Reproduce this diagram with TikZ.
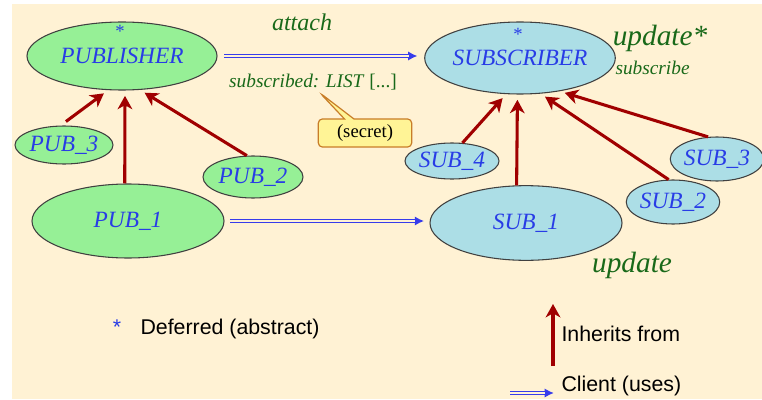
\documentclass[tikz,border=0pt]{standalone}
\usepackage{fontspec}
\setmainfont{Liberation Serif}
\newfontfamily\arialfont{Liberation Sans}
\usetikzlibrary{shapes.geometric,shapes.callouts,arrows.meta}

\definecolor{bgc}{RGB}{255,242,212}
\definecolor{pubgreen}{RGB}{150,240,150}
\definecolor{subblue}{RGB}{172,222,230}
\definecolor{inhred}{RGB}{160,0,0}
\definecolor{cliblue}{RGB}{55,60,235}
\definecolor{txtblue}{RGB}{40,60,230}
\definecolor{featgreen}{RGB}{25,105,25}
\definecolor{noteyellow}{RGB}{255,244,150}
\definecolor{notebrown}{RGB}{200,125,40}

\tikzset{every picture/.style={line width=0.75pt}}
\tikzset{
  pubnode/.style={ellipse, draw=black!75, line width=0.8pt, fill=pubgreen, inner sep=0pt,
    text=txtblue, font=\fontsize{17.5}{20}\selectfont\itshape},
  subnode/.style={pubnode, fill=subblue},
  starlbl/.style={text=txtblue, font=\fontsize{14}{16}\selectfont, inner sep=0pt},
  feat/.style={text=featgreen, inner sep=0pt},
  legtext/.style={font=\arialfont\fontsize{16}{18}\selectfont, text=black, inner sep=0pt},
  inh/.style={draw=inhred, line width=2.3pt, -{Stealth[length=10pt,width=11pt,inset=3pt]}, shorten >=4pt},
  cli/.style={draw=cliblue, line width=3.1pt, -{Latex[length=7pt,width=7pt]}, shorten >=#1,
    postaction={draw=bgc, line width=1.3pt, -, shorten >=#1+6.5pt}},
}

\begin{document}
\begin{tikzpicture}[x=0.75pt,y=0.75pt,yscale=-1,xscale=1]
    \useasboundingbox (0,0) rectangle (762,399);
    %background
    \fill[bgc] (12,4) rectangle (762,399);

    %Publisher side
    \node[pubnode, minimum width=142.5pt, minimum height=51pt] (pub) at (122,56) {PUBLISHER};
    \node[starlbl] (pubstar) at (120,31) {*};
    \node[pubnode, minimum width=73.5pt, minimum height=28.5pt] (pubthree) at (64,145) {PUB\_3};
    \node[pubnode, minimum width=75pt, minimum height=31.5pt] (pubtwo) at (253,177) {PUB\_2};
    \node[pubnode, minimum width=144pt, minimum height=55.5pt] (pubone) at (128,221) {PUB\_1};

    %Subscriber side
    \node[subnode, minimum width=142.5pt, minimum height=54pt] (sub) at (520,58) {SUBSCRIBER};
    \node[starlbl] (substar) at (518,34) {*};
    \node[subnode, minimum width=70.5pt, minimum height=27pt] (subfour) at (452,161) {SUB\_4};
    \node[subnode, minimum width=67.5pt, minimum height=33pt] (subthree) at (717,159) {SUB\_3};
    \node[subnode, minimum width=69pt, minimum height=33pt] (subtwo) at (673,202) {SUB\_2};
    \node[subnode, minimum width=144pt, minimum height=56pt] (subone) at (526,223) {SUB\_1};

    %Inheritance
    \draw[inh, shorten <=5pt] (pubthree.100) -- (pub.248);
    \draw[inh] (pubone.95) -- (pub.275);
    \draw[inh] (pubtwo.106) -- (pub.298);
    \draw[inh] (subfour.60) -- (sub.249);
    \draw[inh] (subone.104) -- (sub.266);
    \draw[inh] (subtwo.101) -- (sub.300);
    \draw[inh] (subthree.112) -- (sub.320);

    %Client
    \draw[cli=5pt, shorten <=5pt] (pub.east) -- (pub.east -| sub.west);
    \draw[cli=4pt, shorten <=4pt] (pubone.east) -- (pubone.east -| subone.west);

    % Text Node
    \node[feat, font=\fontsize{18}{20}\selectfont\itshape] (attach) at (302,22) {attach};
    % Text Node
    \node[feat, font=\fontsize{14.5}{16}\selectfont] (sublist) at (313,82) {\textit{subscribed: LIST} [...]};
    % Text Node
    \node[feat, font=\fontsize{22}{24}\selectfont\itshape] (updstar) at (660,38) {update*};
    % Text Node
    \node[feat, font=\fontsize{14.5}{16}\selectfont\itshape, anchor=west] (subscr) at (615,68) {subscribe};
    % Text Node
    \node[feat, font=\fontsize{22}{24}\selectfont\itshape] (upd) at (632,265) {update};

    %Note
    \coordinate (secrettip) at (320,93);
    \node[rectangle callout, callout absolute pointer={(secrettip)}, draw=notebrown, line width=0.9pt,
      fill=noteyellow, rounded corners=3pt, minimum width=70pt, minimum height=21pt,
      font=\fontsize{14}{16}\selectfont] (secret) at (365,133) {(secret)};

    %Legend
    \node[legtext, text=txtblue] (legstar) at (117,327) {*};
    \node[legtext, anchor=west] (legdef) at (140,329) {Deferred (abstract)};
    \coordinate (inhbot) at (553,366);
    \coordinate (inhtop) at (553,304);
    \draw[inh, shorten >=0pt] (inhbot) -- (inhtop);
    \node[legtext, anchor=west] (leginh) at (561,334) {Inherits from};
    \coordinate (clileft) at (510,393);
    \coordinate (cliright) at (554,393);
    \draw[cli=0pt] (clileft) -- (cliright);
    \node[legtext, anchor=west] (legcli) at (561,386) {Client (uses)};
\end{tikzpicture}
\end{document}
